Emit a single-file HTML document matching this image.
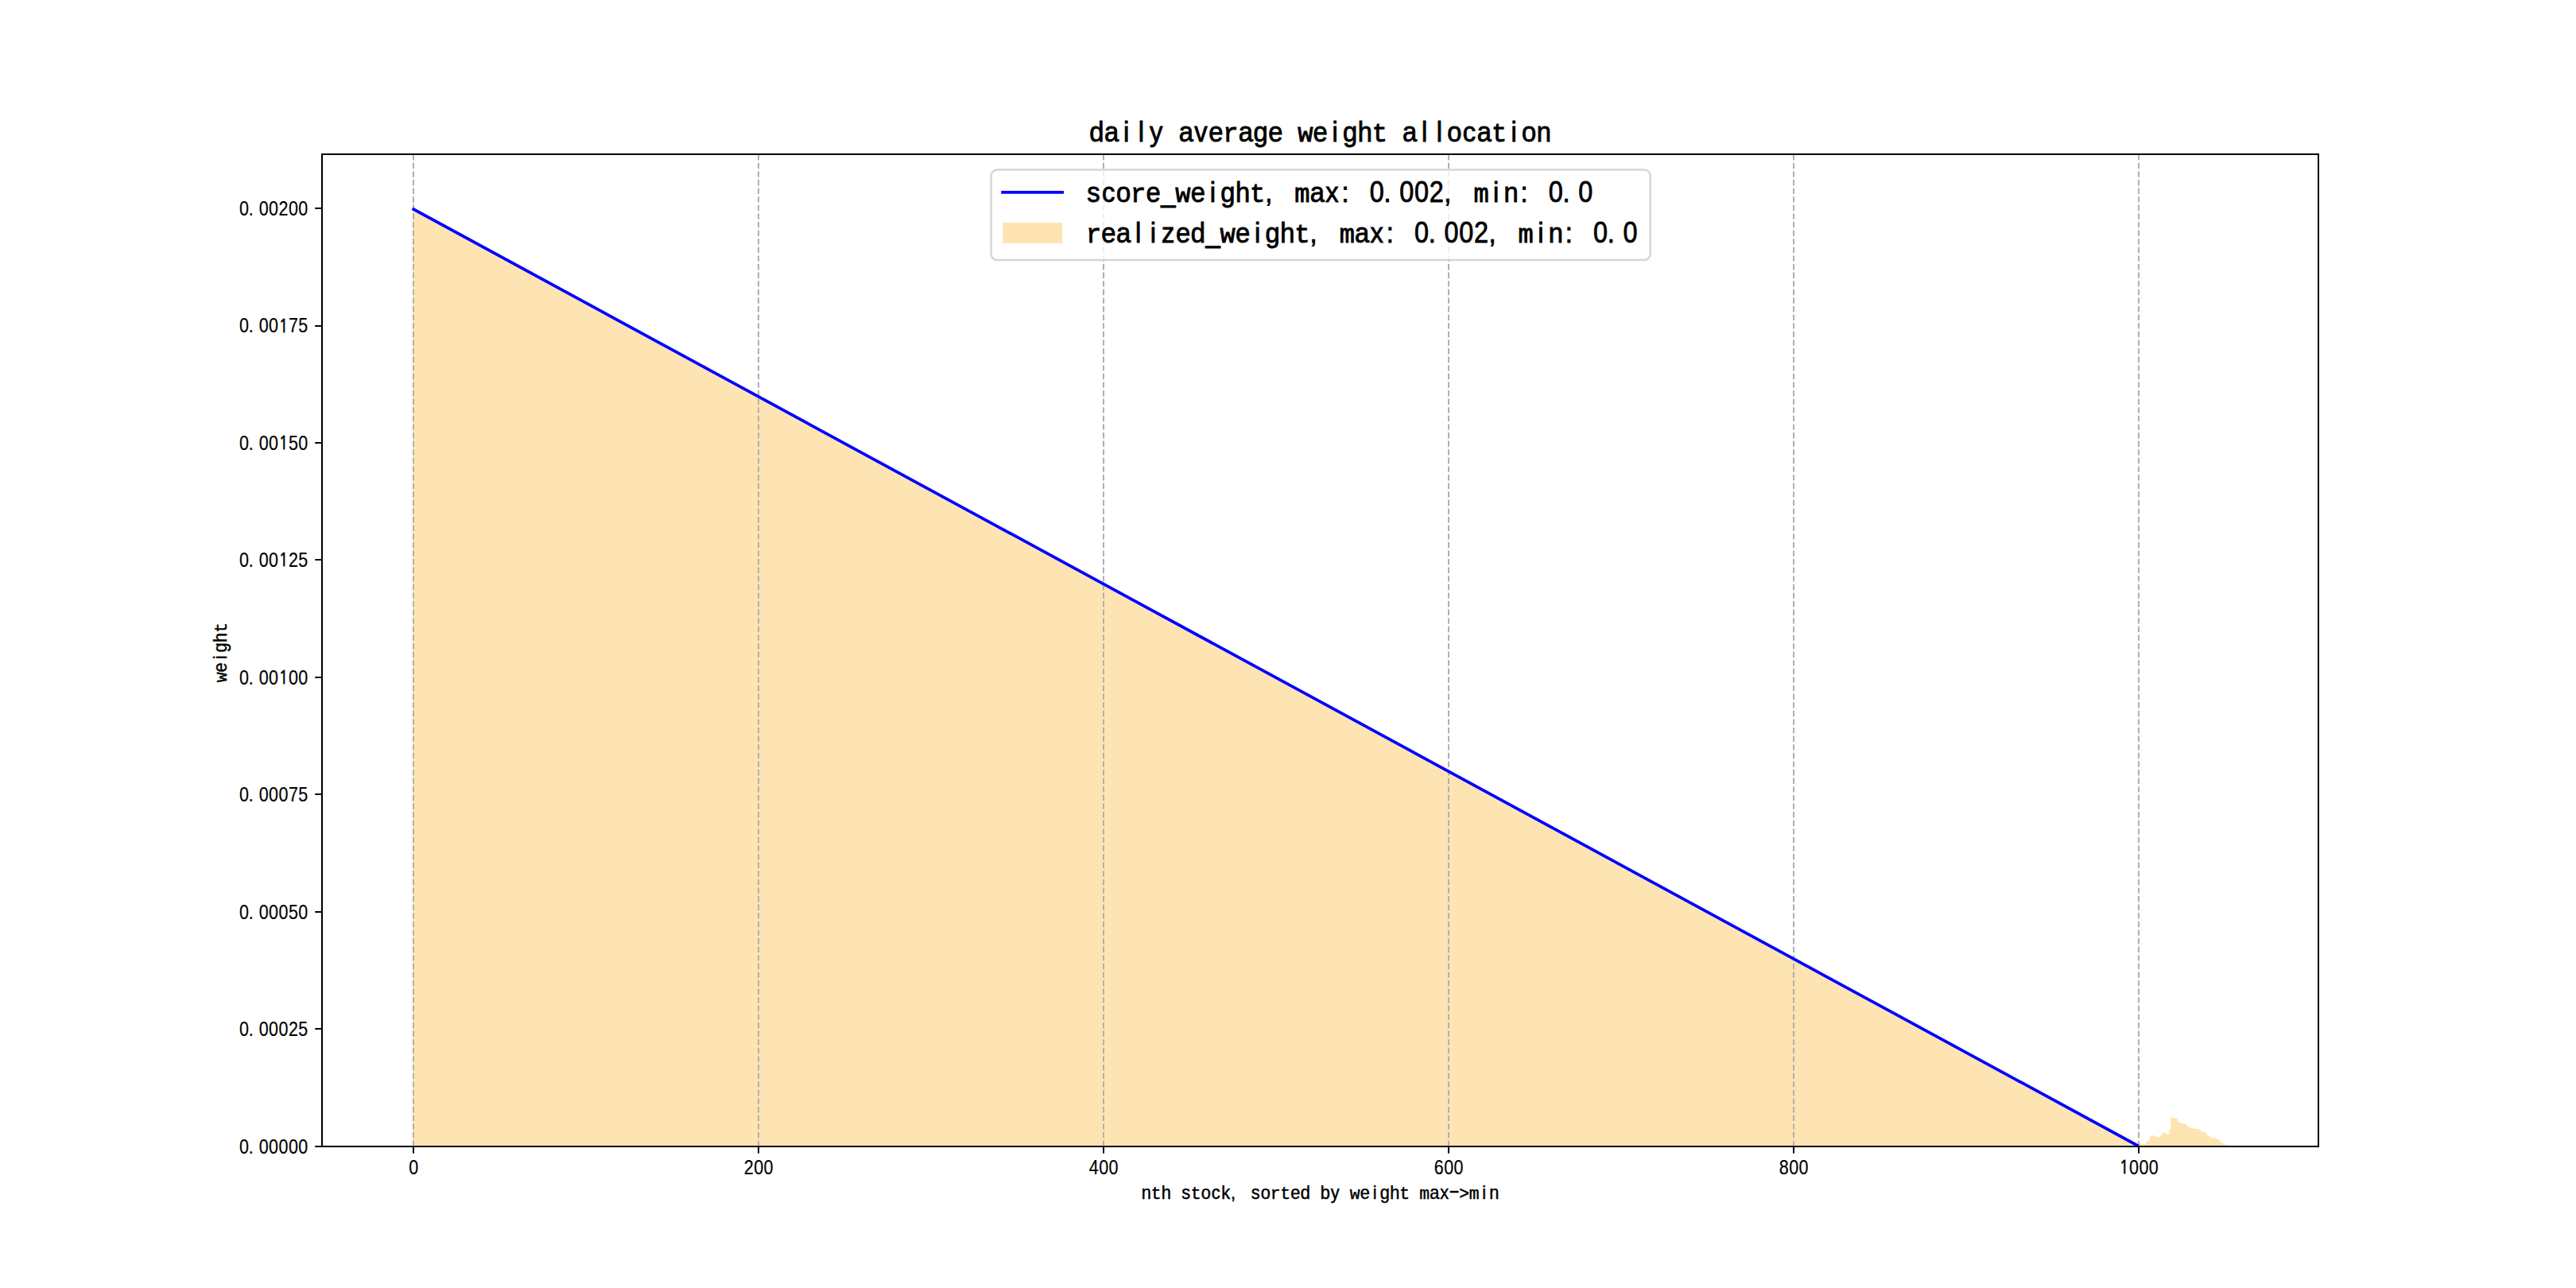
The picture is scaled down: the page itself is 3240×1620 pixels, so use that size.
<!DOCTYPE html>
<html lang="en"><head><meta charset="utf-8"><title>daily average weight allocation</title>
<style>html,body{margin:0;padding:0;background:#fff;}body{width:3240px;height:1620px;overflow:hidden;}svg{display:block;}text{fill:#000;}</style>
</head><body>
<svg width="3240" height="1620" viewBox="0 0 3240 1620">
<rect width="3240" height="1620" fill="#fff"/>
<defs><clipPath id="ax"><rect x="405.0" y="194.4" width="2511.0" height="1247.4"/></clipPath></defs>
<g clip-path="url(#ax)">
<polygon fill="#ffe4b3" points="519.1,1442.0 519.1,253.8 521.3,253.8 521.3,263.8 2689.1,1441.2 2691.1,1441.2 2691.1,1438.1 2693.2,1438.1 2693.2,1439.2 2698.2,1439.2 2698.2,1438.1 2700.2,1438.1 2700.2,1435.1 2702.1,1435.1 2702.1,1434.1 2704.1,1434.1 2704.1,1429.1 2706.0,1429.1 2706.0,1428.1 2708.9,1428.1 2708.9,1429.1 2711.0,1429.1 2711.0,1430.1 2716.9,1430.1 2716.9,1428.1 2719.0,1428.1 2719.0,1425.0 2723.9,1425.0 2723.9,1426.0 2725.8,1426.0 2725.8,1427.0 2728.1,1427.0 2728.1,1421.0 2730.1,1421.0 2730.1,1405.0 2732.0,1405.0 2732.0,1406.0 2736.7,1406.0 2736.7,1407.0 2739.0,1407.0 2739.0,1411.1 2740.9,1411.1 2740.9,1412.0 2742.9,1412.0 2742.9,1413.0 2747.9,1413.0 2747.9,1413.9 2749.9,1413.9 2749.9,1415.9 2751.8,1415.9 2751.8,1417.0 2753.7,1417.0 2753.7,1418.0 2755.8,1418.0 2755.8,1419.1 2760.7,1419.1 2760.7,1420.0 2766.8,1420.0 2766.8,1421.9 2768.9,1421.9 2768.9,1424.0 2773.9,1424.0 2773.9,1425.0 2775.9,1425.0 2775.9,1428.0 2777.8,1428.0 2777.8,1429.1 2779.8,1429.1 2779.8,1431.0 2786.7,1431.0 2786.7,1432.0 2788.7,1432.0 2788.7,1433.0 2790.6,1433.0 2790.6,1434.0 2792.8,1434.0 2792.8,1437.1 2794.9,1437.1 2794.9,1438.1 2796.8,1438.1 2796.8,1439.0 2799.9,1439.0 2799.9,1440.2 2802.3,1440.2 2802.3,1441.1 2802.3,1442.0"/>
<line x1="520" y1="1441.8" x2="520" y2="194.4" stroke="#b0b0b0" stroke-width="2" stroke-dasharray="7.4 3.2"/>
<line x1="954" y1="1441.8" x2="954" y2="194.4" stroke="#b0b0b0" stroke-width="2" stroke-dasharray="7.4 3.2"/>
<line x1="1388" y1="1441.8" x2="1388" y2="194.4" stroke="#b0b0b0" stroke-width="2" stroke-dasharray="7.4 3.2"/>
<line x1="1822" y1="1441.8" x2="1822" y2="194.4" stroke="#b0b0b0" stroke-width="2" stroke-dasharray="7.4 3.2"/>
<line x1="2256" y1="1441.8" x2="2256" y2="194.4" stroke="#b0b0b0" stroke-width="2" stroke-dasharray="7.4 3.2"/>
<line x1="2690" y1="1441.8" x2="2690" y2="194.4" stroke="#b0b0b0" stroke-width="2" stroke-dasharray="7.4 3.2"/>
<line x1="520.20" y1="263.24" x2="2688.03" y2="1440.62" stroke="#0000ff" stroke-width="3.75" stroke-linecap="square"/>
</g>
<rect x="405" y="194" width="2511" height="1248" fill="none" stroke="#000" stroke-width="2" shape-rendering="crispEdges"/>
<g fill="#000"><rect x="519" y="1442" width="2" height="8.6"/><rect x="953" y="1442" width="2" height="8.6"/><rect x="1387" y="1442" width="2" height="8.6"/><rect x="1821" y="1442" width="2" height="8.6"/><rect x="2255" y="1442" width="2" height="8.6"/><rect x="2689" y="1442" width="2" height="8.6"/><rect x="396.25" y="1441" width="8.75" height="2"/><rect x="396.25" y="1293" width="8.75" height="2"/><rect x="396.25" y="1146" width="8.75" height="2"/><rect x="396.25" y="998" width="8.75" height="2"/><rect x="396.25" y="851" width="8.75" height="2"/><rect x="396.25" y="703" width="8.75" height="2"/><rect x="396.25" y="556" width="8.75" height="2"/><rect x="396.25" y="409" width="8.75" height="2"/><rect x="396.25" y="261" width="8.75" height="2"/></g>
<text transform="translate(514.00 1476.80) scale(0.8300 1)" x="7.47" y="0" text-anchor="middle" font-family="Liberation Sans, sans-serif" font-size="25.90" stroke="#000" stroke-width="0.20" xml:space="preserve" >0</text>
<text transform="translate(935.60 1476.80) scale(0.8300 1)" x="7.47 22.41 37.35" y="0 0 0" text-anchor="middle" font-family="Liberation Sans, sans-serif" font-size="25.90" stroke="#000" stroke-width="0.20" xml:space="preserve" >200</text>
<text transform="translate(1369.60 1476.80) scale(0.8300 1)" x="7.47 22.41 37.35" y="0 0 0" text-anchor="middle" font-family="Liberation Sans, sans-serif" font-size="25.90" stroke="#000" stroke-width="0.20" xml:space="preserve" >400</text>
<text transform="translate(1803.60 1476.80) scale(0.8300 1)" x="7.47 22.41 37.35" y="0 0 0" text-anchor="middle" font-family="Liberation Sans, sans-serif" font-size="25.90" stroke="#000" stroke-width="0.20" xml:space="preserve" >600</text>
<text transform="translate(2237.60 1476.80) scale(0.8300 1)" x="7.47 22.41 37.35" y="0 0 0" text-anchor="middle" font-family="Liberation Sans, sans-serif" font-size="25.90" stroke="#000" stroke-width="0.20" xml:space="preserve" >800</text>
<text transform="translate(2665.40 1476.80) scale(0.8300 1)" x="7.47 22.41 37.35 52.29" y="-0.78 0 0 0" text-anchor="middle" font-family="Liberation Sans, sans-serif" font-size="25.90" stroke="#000" stroke-width="0.20" xml:space="preserve" ><tspan font-family="NanumGothic, 'Liberation Sans', sans-serif" font-size="23.31" stroke-width="0.80">1</tspan>000</text>
<text transform="translate(300.70 1450.60) scale(0.8300 1)" x="7.47 18.08 37.35 52.29 67.23 82.17 97.11" y="0 0 0 0 0 0 0" text-anchor="middle" font-family="Liberation Sans, sans-serif" font-size="25.90" stroke="#000" stroke-width="0.20" xml:space="preserve" >0.00000</text>
<text transform="translate(300.70 1303.13) scale(0.8300 1)" x="7.47 18.08 37.35 52.29 67.23 82.17 97.11" y="0 0 0 0 0 0 0" text-anchor="middle" font-family="Liberation Sans, sans-serif" font-size="25.90" stroke="#000" stroke-width="0.20" xml:space="preserve" >0.00025</text>
<text transform="translate(300.70 1155.66) scale(0.8300 1)" x="7.47 18.08 37.35 52.29 67.23 82.17 97.11" y="0 0 0 0 0 0 0" text-anchor="middle" font-family="Liberation Sans, sans-serif" font-size="25.90" stroke="#000" stroke-width="0.20" xml:space="preserve" >0.00050</text>
<text transform="translate(300.70 1008.20) scale(0.8300 1)" x="7.47 18.08 37.35 52.29 67.23 82.17 97.11" y="0 0 0 0 0 0 0" text-anchor="middle" font-family="Liberation Sans, sans-serif" font-size="25.90" stroke="#000" stroke-width="0.20" xml:space="preserve" >0.00075</text>
<text transform="translate(300.70 860.73) scale(0.8300 1)" x="7.47 18.08 37.35 52.29 67.23 82.17 97.11" y="0 0 0 0 -0.78 0 0" text-anchor="middle" font-family="Liberation Sans, sans-serif" font-size="25.90" stroke="#000" stroke-width="0.20" xml:space="preserve" >0.00<tspan font-family="NanumGothic, 'Liberation Sans', sans-serif" font-size="23.31" stroke-width="0.80">1</tspan>00</text>
<text transform="translate(300.70 713.26) scale(0.8300 1)" x="7.47 18.08 37.35 52.29 67.23 82.17 97.11" y="0 0 0 0 -0.78 0 0" text-anchor="middle" font-family="Liberation Sans, sans-serif" font-size="25.90" stroke="#000" stroke-width="0.20" xml:space="preserve" >0.00<tspan font-family="NanumGothic, 'Liberation Sans', sans-serif" font-size="23.31" stroke-width="0.80">1</tspan>25</text>
<text transform="translate(300.70 565.79) scale(0.8300 1)" x="7.47 18.08 37.35 52.29 67.23 82.17 97.11" y="0 0 0 0 -0.78 0 0" text-anchor="middle" font-family="Liberation Sans, sans-serif" font-size="25.90" stroke="#000" stroke-width="0.20" xml:space="preserve" >0.00<tspan font-family="NanumGothic, 'Liberation Sans', sans-serif" font-size="23.31" stroke-width="0.80">1</tspan>50</text>
<text transform="translate(300.70 418.33) scale(0.8300 1)" x="7.47 18.08 37.35 52.29 67.23 82.17 97.11" y="0 0 0 0 -0.78 0 0" text-anchor="middle" font-family="Liberation Sans, sans-serif" font-size="25.90" stroke="#000" stroke-width="0.20" xml:space="preserve" >0.00<tspan font-family="NanumGothic, 'Liberation Sans', sans-serif" font-size="23.31" stroke-width="0.80">1</tspan>75</text>
<text transform="translate(300.70 270.86) scale(0.8300 1)" x="7.47 18.08 37.35 52.29 67.23 82.17 97.11" y="0 0 0 0 0 0 0" text-anchor="middle" font-family="Liberation Sans, sans-serif" font-size="25.90" stroke="#000" stroke-width="0.20" xml:space="preserve" >0.00200</text>
<text transform="translate(1435.50 1507.70) scale(0.9400 1)" x="6.65 19.95 33.24 46.54 59.84 73.14 86.44 99.73 113.03 123.01 139.63 152.93 166.22 179.52 192.82 206.12 219.41 232.71 246.01 259.31 272.61 285.90 299.20 312.50 325.80 339.10 352.39 365.69 378.99 392.29 405.59 418.88 432.18 445.48 458.78 472.07" y="0 0 0 0 0 0 0 0 0 0 0 0 0 0 0 0 0 0 0 0 0 0 0 0 0 0 0 0 0 0 0 -2.78 0 0 0 0" text-anchor="middle" font-family="Liberation Sans, sans-serif" font-size="23.20" stroke="#000" stroke-width="0.45" xml:space="preserve" >n<tspan font-family="Liberation Mono, monospace" font-size="22.74" stroke-width="0.50">t</tspan>h s<tspan font-family="Liberation Mono, monospace" font-size="22.74" stroke-width="0.50">t</tspan>ock, so<tspan font-family="Liberation Mono, monospace" font-size="22.74" stroke-width="0.50">rt</tspan>ed by <tspan font-family="Liberation Mono, monospace" font-size="22.74" stroke-width="0.50">w</tspan>eigh<tspan font-family="Liberation Mono, monospace" font-size="22.74" stroke-width="0.50">t</tspan> <tspan font-family="Liberation Mono, monospace" font-size="22.74" stroke-width="0.50">m</tspan>ax<tspan font-family="Liberation Mono, monospace" stroke-width="0.50" textLength="23.66" lengthAdjust="spacingAndGlyphs">-</tspan><tspan font-family="Liberation Mono, monospace" font-size="22.74" stroke-width="0.50">&gt;m</tspan>in</text>
<text transform="translate(285.20 858.10) rotate(-90) scale(0.9400 1)" x="6.65 19.95 33.24 46.54 59.84 73.14" y="0 0 0 0 0 0" text-anchor="middle" font-family="Liberation Sans, sans-serif" font-size="23.20" stroke="#000" stroke-width="0.45" xml:space="preserve" ><tspan font-family="Liberation Mono, monospace" font-size="22.74" stroke-width="0.50">w</tspan>eigh<tspan font-family="Liberation Mono, monospace" font-size="22.74" stroke-width="0.50">t</tspan></text>
<text transform="translate(1369.88 178.00) scale(0.9400 1)" x="9.97 29.92 49.87 69.81 89.76 109.71 129.65 149.60 169.55 189.49 209.44 229.39 249.34 269.28 289.23 309.18 329.12 349.07 369.02 388.96 408.91 428.86 448.80 468.75 488.70 508.64 528.59 548.54 568.48 588.43 608.38" y="0 0 0 0 0 0 0 0 0 0 0 0 0 0 0 0 0 0 0 0 0 0 0 0 0 0 0 0 0 0 0" text-anchor="middle" font-family="Liberation Sans, sans-serif" font-size="34.80" stroke="#000" stroke-width="0.85" xml:space="preserve" >daily ave<tspan font-family="Liberation Mono, monospace" font-size="34.10" stroke-width="0.95">r</tspan>age <tspan font-family="Liberation Mono, monospace" font-size="34.10" stroke-width="0.95">w</tspan>eigh<tspan font-family="Liberation Mono, monospace" font-size="34.10" stroke-width="0.95">t</tspan> alloca<tspan font-family="Liberation Mono, monospace" font-size="34.10" stroke-width="0.95">t</tspan>ion</text>
<rect x="1246.58" y="213.60" width="829.05" height="113.40" rx="7.5" ry="7.5" fill="#fff" fill-opacity="0.8" stroke="#ccc" stroke-opacity="0.8" stroke-width="2.5"/>
<line x1="1261.12" y1="241.9" x2="1336.12" y2="241.9" stroke="#0000ff" stroke-width="3.75" stroke-linecap="square"/>
<rect x="1261.12" y="280.1" width="75" height="25.9" fill="#ffe4b3"/>
<text transform="translate(1366.12 254.10) scale(0.9400 1)" x="9.97 29.92 49.87 69.81 89.76 109.71 129.65 149.60 169.55 189.49 209.44 229.39 244.35 269.28 289.23 309.18 329.12 346.68 369.02 388.96 403.12 428.86 448.80 468.75 483.71 508.64 528.59 548.54 568.48 586.04 608.38 628.32 642.49 668.22" y="0 0 0 0 0 0 0 0 0 0 0 0 0 0 0 0 0 0 0 0 0 0 0 0 0 0 0 0 0 0 0 0 0 0" text-anchor="middle" font-family="Liberation Sans, sans-serif" font-size="34.80" stroke="#000" stroke-width="0.85" xml:space="preserve" >sco<tspan font-family="Liberation Mono, monospace" font-size="34.10" stroke-width="0.95">r</tspan>e_<tspan font-family="Liberation Mono, monospace" font-size="34.10" stroke-width="0.95">w</tspan>eigh<tspan font-family="Liberation Mono, monospace" font-size="34.10" stroke-width="0.95">t</tspan>, <tspan font-family="Liberation Mono, monospace" font-size="34.10" stroke-width="0.95">m</tspan>ax: <tspan font-size="37.50" textLength="19.18" lengthAdjust="spacingAndGlyphs">0</tspan>.<tspan font-size="37.50" textLength="19.18" lengthAdjust="spacingAndGlyphs">0</tspan><tspan font-size="37.50" textLength="19.18" lengthAdjust="spacingAndGlyphs">0</tspan><tspan font-size="37.50" textLength="19.18" lengthAdjust="spacingAndGlyphs">2</tspan>, <tspan font-family="Liberation Mono, monospace" font-size="34.10" stroke-width="0.95">m</tspan>in: <tspan font-size="37.50" textLength="19.18" lengthAdjust="spacingAndGlyphs">0</tspan>.<tspan font-size="37.50" textLength="19.18" lengthAdjust="spacingAndGlyphs">0</tspan></text>
<text transform="translate(1366.12 304.90) scale(0.9400 1)" x="9.97 29.92 49.87 69.81 89.76 109.71 129.65 149.60 169.55 189.49 209.44 229.39 249.34 269.28 289.23 304.19 329.12 349.07 369.02 388.96 406.52 428.86 448.80 462.97 488.70 508.64 528.59 543.55 568.48 588.43 608.38 628.32 645.88 668.22 688.16 702.33 728.06" y="0 0 0 0 0 0 0 0 0 0 0 0 0 0 0 0 0 0 0 0 0 0 0 0 0 0 0 0 0 0 0 0 0 0 0 0 0" text-anchor="middle" font-family="Liberation Sans, sans-serif" font-size="34.80" stroke="#000" stroke-width="0.85" xml:space="preserve" ><tspan font-family="Liberation Mono, monospace" font-size="34.10" stroke-width="0.95">r</tspan>ealized_<tspan font-family="Liberation Mono, monospace" font-size="34.10" stroke-width="0.95">w</tspan>eigh<tspan font-family="Liberation Mono, monospace" font-size="34.10" stroke-width="0.95">t</tspan>, <tspan font-family="Liberation Mono, monospace" font-size="34.10" stroke-width="0.95">m</tspan>ax: <tspan font-size="37.50" textLength="19.18" lengthAdjust="spacingAndGlyphs">0</tspan>.<tspan font-size="37.50" textLength="19.18" lengthAdjust="spacingAndGlyphs">0</tspan><tspan font-size="37.50" textLength="19.18" lengthAdjust="spacingAndGlyphs">0</tspan><tspan font-size="37.50" textLength="19.18" lengthAdjust="spacingAndGlyphs">2</tspan>, <tspan font-family="Liberation Mono, monospace" font-size="34.10" stroke-width="0.95">m</tspan>in: <tspan font-size="37.50" textLength="19.18" lengthAdjust="spacingAndGlyphs">0</tspan>.<tspan font-size="37.50" textLength="19.18" lengthAdjust="spacingAndGlyphs">0</tspan></text>
</svg>
</body></html>
